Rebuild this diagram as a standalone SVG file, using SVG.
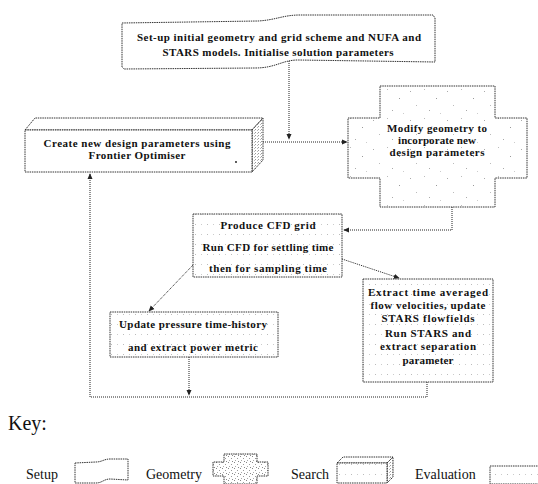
<svg xmlns="http://www.w3.org/2000/svg" width="538" height="484" viewBox="0 0 538 484">
  <style>
    .lbl { font-family: "Liberation Serif", "Times New Roman", serif; font-weight: bold; font-size: 11px; fill: #111; text-anchor: middle; }
    .key { font-family: "Liberation Serif", "Times New Roman", serif; font-size: 14px; fill: #111; }
    .edge { fill: none; stroke: #222; stroke-width: 1; stroke-dasharray: 1 1; }
    .box { stroke: #333; stroke-width: 1; stroke-dasharray: 1.5 0.8; }
  </style>
  <defs>
    <marker id="arrow" viewBox="0 0 8 8" refX="7" refY="4" markerWidth="6" markerHeight="6" orient="auto" markerUnits="userSpaceOnUse">
      <path d="M0,0.5 L8,4 L0,7.5 Z" fill="#222"/>
    </marker>
    <!-- sparse dotted fill for evaluation steps -->
    <pattern id="evalDots" width="12" height="10" patternUnits="userSpaceOnUse">
      <rect width="12" height="10" fill="#fff"/>
      <rect x="3" y="4" width="1" height="1" fill="#bbb"/>
      <rect x="9" y="4" width="1" height="1" fill="#ccc"/>
    </pattern>
    <!-- light speckle for the geometry step -->
    <pattern id="geoSpeckle" width="37" height="29" patternUnits="userSpaceOnUse">
      <rect width="37" height="29" fill="#fff"/>
      <rect x="3" y="4" width="1" height="1" fill="#aaa"/>
      <rect x="17" y="2" width="1" height="1" fill="#bbb"/>
      <rect x="29" y="11" width="1" height="1" fill="#999"/>
      <rect x="9" y="18" width="1" height="1" fill="#bbb"/>
      <rect x="22" y="23" width="1" height="1" fill="#aaa"/>
      <rect x="33" y="26" width="1" height="1" fill="#ccc"/>
    </pattern>
    <pattern id="geoDense" width="6" height="6" patternUnits="userSpaceOnUse">
      <rect width="6" height="6" fill="#fff"/>
      <rect x="0" y="0" width="1" height="1" fill="#888"/>
      <rect x="3" y="2" width="1" height="1" fill="#999"/>
      <rect x="1" y="4" width="1" height="1" fill="#aaa"/>
      <rect x="4" y="5" width="1" height="1" fill="#888"/>
    </pattern>
    <pattern id="sideShade" width="3" height="3" patternUnits="userSpaceOnUse">
      <rect width="3" height="3" fill="#fff"/>
      <rect x="0" y="0" width="1" height="1" fill="#999"/>
      <rect x="2" y="1" width="1" height="1" fill="#bbb"/>
    </pattern>
  </defs>

  <!-- flow connectors -->
  <g id="connectors">
    <path class="edge" d="M289,61 V139" marker-end="url(#arrow)"/>
    <path class="edge" d="M263,142 H347" marker-end="url(#arrow)"/>
    <path class="edge" d="M452,207 V230 H344" marker-end="url(#arrow)"/>
    <path class="edge" d="M193,265 L149,311" marker-end="url(#arrow)"/>
    <path class="edge" d="M342,259 L399,278" marker-end="url(#arrow)"/>
    <path class="edge" d="M189,357 V395" marker-end="url(#arrow)"/>
    <path class="edge" d="M427,382 V397 H90 V174" marker-end="url(#arrow)"/>
  </g>

  <!-- setup step -->
  <g id="setup">
    <path class="box" fill="#fff" d="M122,23 L258,21 C276,20 283,15 300,15 L433,15 L435,18 L435,62 L298,60 C282,60 276,68 255,68 L124,69 L122,67 Z"/>
    <text class="lbl" x="279" y="41" textLength="284">Set-up initial geometry and  grid scheme and NUFA and</text>
    <text class="lbl" x="278" y="56" textLength="231">STARS models.  Initialise solution parameters</text>
  </g>

  <!-- search step: 3D block -->
  <g id="search">
    <polygon class="box" fill="#fff" points="25,130 35,118 263,118 252,130"/>
    <polygon class="box" fill="url(#sideShade)" points="252,130 263,118 263,160 252,172"/>
    <rect class="box" x="25" y="130" width="227" height="42" fill="#fff"/>
    <text class="lbl" x="137" y="147" textLength="187">Create new design parameters using</text>
    <text class="lbl" x="137" y="159" textLength="97">Frontier  Optimiser</text>
    <circle cx="236" cy="162" r="0.9" fill="#111"/>
  </g>

  <!-- geometry step: cross shape -->
  <g id="geometry">
    <path class="box" fill="url(#geoSpeckle)" d="M380,86 H495 V118 H527 V178 H495 V207 H380 V178 H348 V118 H380 Z"/>
    <text class="lbl" x="437" y="132" textLength="100">Modify geometry to</text>
    <text class="lbl" x="437" y="144" textLength="78">incorporate new</text>
    <text class="lbl" x="437" y="156" textLength="95">design parameters</text>
  </g>

  <!-- evaluation: CFD run -->
  <g id="cfd">
    <rect class="box" x="193" y="214" width="149" height="63" fill="url(#evalDots)"/>
    <text class="lbl" x="268" y="229" textLength="95">Produce CFD grid</text>
    <text class="lbl" x="268" y="251" textLength="131">Run CFD for settling time</text>
    <text class="lbl" x="268" y="272" textLength="118">then for sampling time</text>
  </g>

  <!-- evaluation: pressure history -->
  <g id="pressure">
    <rect class="box" x="110" y="312" width="168" height="45" fill="url(#evalDots)"/>
    <text class="lbl" x="193" y="328" textLength="148">Update pressure time-history</text>
    <text class="lbl" x="193" y="351" textLength="130">and extract power metric</text>
  </g>

  <!-- evaluation: STARS -->
  <g id="stars">
    <rect class="box" x="363" y="279" width="130" height="103" fill="url(#evalDots)"/>
    <text class="lbl" x="428" y="296" textLength="120">Extract time averaged</text>
    <text class="lbl" x="428" y="309" textLength="115">flow velocities, update</text>
    <text class="lbl" x="428" y="322" textLength="93">STARS flowfields</text>
    <text class="lbl" x="428" y="337" textLength="86">Run STARS and</text>
    <text class="lbl" x="428" y="350" textLength="96">extract separation</text>
    <text class="lbl" x="428" y="364" textLength="51">parameter</text>
  </g>

  <!-- legend -->
  <g id="legend">
    <text class="key" x="8" y="430" style="font-size:20px">Key:</text>
    <text class="key" x="26" y="479">Setup</text>
    <path class="box" fill="#fff" d="M75,463 L96,462 C102,462 104,459 110,459 L128,459 L128,480 L110,479 C104,479 102,483 96,483 L75,483 Z"/>
    <text class="key" x="146" y="479">Geometry</text>
    <path class="box" fill="url(#geoDense)" d="M224,454 H257 V462 H268 V476 H257 V484 H224 V476 H213 V462 H224 Z"/>
    <text class="key" x="291" y="479">Search</text>
    <polygon class="box" fill="#fff" points="337,463 343,457 393,457 387,463"/>
    <polygon class="box" fill="url(#sideShade)" points="387,463 393,457 393,477 387,483"/>
    <rect class="box" x="337" y="463" width="50" height="20" fill="url(#evalDots)"/>
    <text class="key" x="415" y="479">Evaluation</text>
    <rect class="box" x="490" y="466" width="50" height="18" fill="url(#evalDots)"/>
  </g>
</svg>
